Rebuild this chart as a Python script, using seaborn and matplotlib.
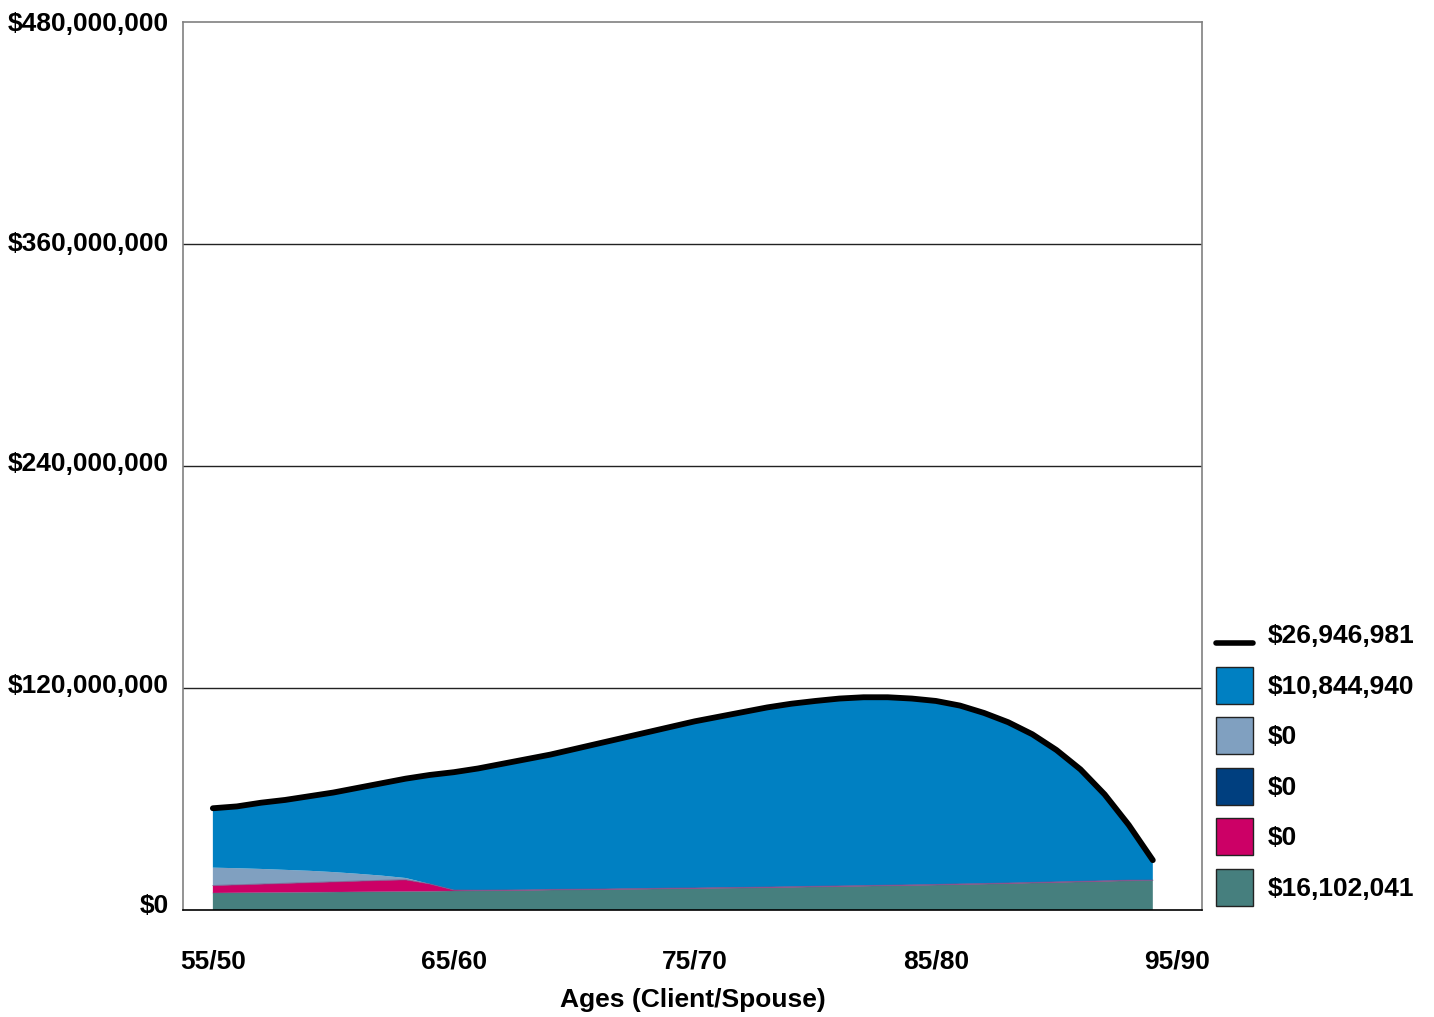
import matplotlib
matplotlib.use("Agg")
import matplotlib.pyplot as plt
import matplotlib.transforms as mtransforms
from matplotlib.patches import Patch
from matplotlib.lines import Line2D
from matplotlib.legend_handler import HandlerLine2D
from matplotlib.ticker import FuncFormatter
import numpy as np
import pandas as pd
import seaborn as sns

# Client ages, one row per year of the projection
ages = list(range(55, 95))

# Projected asset values in millions of dollars (bottom of the stack first)
teal_vals = [9.2, 9.3, 9.4, 9.5, 9.6, 9.7, 9.8, 9.9, 10.0, 10.1,
             10.3, 10.4, 10.5, 10.6, 10.8, 10.9, 11.0, 11.2, 11.3, 11.5,
             11.6, 11.8, 11.9, 12.1, 12.3, 12.5, 12.7, 12.9, 13.1, 13.3,
             13.5, 13.8, 14.0, 14.3, 14.6, 14.9, 15.2, 15.5, 15.8, 16.102041]
magenta_vals = [4.0, 4.3, 4.6, 4.9, 5.2, 5.5, 5.8, 6.1, 6.3, 4.0,
                0.5, 0.3, 0.3, 0.3, 0.3, 0.3, 0.3, 0.3, 0.3, 0.3,
                0.3, 0.3, 0.3, 0.3, 0.3, 0.3, 0.3, 0.3, 0.3, 0.3,
                0.3, 0.3, 0.3, 0.3, 0.3, 0.3, 0.3, 0.3, 0.3, 0.0]
navy_vals = [0.0] * 40
steel_vals = [9.7, 9.0, 8.2, 7.3, 6.4, 5.3, 4.0, 2.6, 1.0, 0.0,
              0.0, 0.0, 0.0, 0.0, 0.0, 0.0, 0.0, 0.0, 0.0, 0.0,
              0.0, 0.0, 0.0, 0.0, 0.0, 0.0, 0.0, 0.0, 0.0, 0.0,
              0.0, 0.0, 0.0, 0.0, 0.0, 0.0, 0.0, 0.0, 0.0, 0.0]
total_vals = [55.0, 56.0, 58.0, 59.5, 61.5, 63.5, 66.0, 68.5, 71.0, 73.0,
              74.5, 76.5, 79.0, 81.5, 84.0, 87.0, 90.0, 93.0, 96.0, 99.0,
              102.0, 104.5, 107.0, 109.5, 111.5, 113.0, 114.3, 115.0, 115.0, 114.3,
              113.0, 110.5, 106.5, 101.5, 95.0, 86.5, 76.0, 62.5, 46.0, 26.946981]

# Legend labels (final-year values)
legend_labels = ["$26,946,981", "$10,844,940", "$0", "$0", "$0", "$16,102,041"]

# Axis ticks
x_ticks = [55, 65, 75, 85, 95]
x_tick_labels = ["55/50", "65/60", "75/70", "85/80", "95/90"]
y_ticks = [0, 120, 240, 360, 480]

df = pd.DataFrame({
    "age": ages,
    "teal": teal_vals,
    "magenta": magenta_vals,
    "navy": navy_vals,
    "steel": steel_vals,
    "total": total_vals,
})
df["blue"] = df["total"] - df[["teal", "magenta", "navy", "steel"]].sum(axis=1)

c_blue = "#0080C2"
c_steel = "#80A0C0"
c_navy = "#003F7F"
c_magenta = "#CC0066"
c_teal = "#467F7E"

FS = 19

sns.set_theme(style="white")
plt.rcParams["font.family"] = ["Liberation Sans", "DejaVu Sans"]
plt.rcParams["font.weight"] = "bold"
for key in ["text.color", "axes.labelcolor", "xtick.color", "ytick.color"]:
    plt.rcParams[key] = "black"

fig = plt.figure(figsize=(14.34, 10.17), dpi=100)
ax = fig.add_axes([0.1276, 0.1052, 0.8382 - 0.1276, 0.9784 - 0.1052])

ax.stackplot(df["age"], df["teal"], df["magenta"], df["navy"], df["steel"], df["blue"],
             colors=[c_teal, c_magenta, c_navy, c_steel, c_blue],
             edgecolor="none", linewidth=0, zorder=2)
# thin seams of the minor layers
base = df["teal"]
ax.plot(df["age"], base + df["magenta"], color="#7A4F86", lw=0.8, alpha=0.7, zorder=3)
ax.plot(df["age"], base, color="#7A4F86", lw=0.6, alpha=0.5, zorder=3)

sns.lineplot(data=df, x="age", y="total", color="black", linewidth=4.2, ax=ax,
             zorder=4, solid_capstyle="round")

ax.set_xlim(53.76, 96.04)
ax.set_ylim(0, 480)
ax.set_xticks(x_ticks)
ax.set_xticklabels(x_tick_labels)
ax.set_yticks(y_ticks)
ax.yaxis.set_major_formatter(FuncFormatter(lambda v, p: "$0" if v == 0 else f"${int(v * 1e6):,}"))
ax.tick_params(axis="both", length=0, labelsize=FS)
ax.tick_params(axis="y", pad=10)
ax.tick_params(axis="x", pad=28.5)
for lab in ax.get_xticklabels() + ax.get_yticklabels():
    lab.set_fontweight("bold")
# value labels sit a little above their gridlines, more so lower down
lifts_px = [7, 5, 4, 2, 0]
for lab, px in zip(ax.get_yticklabels(), lifts_px):
    lift = mtransforms.ScaledTranslation(0, px / 100, fig.dpi_scale_trans)
    lab.set_transform(lab.get_transform() + lift)

ax.grid(False)
for y in y_ticks[1:-1]:
    ax.axhline(y, color="#222222", lw=1.0, zorder=1)

for side in ["left", "top", "right"]:
    ax.spines[side].set_color("#808080")
    ax.spines[side].set_linewidth(1.2)
ax.spines["bottom"].set_color("black")
ax.spines["bottom"].set_linewidth(1.2)
ax.spines["bottom"].set_zorder(5)

ax.set_xlabel("Ages (Client/Spouse)", fontsize=FS, fontweight="bold", labelpad=10.5)
ax.set_ylabel("")


class LowLineHandler(HandlerLine2D):
    """Legend line drawn near the bottom of its row."""
    def create_artists(self, legend, orig_handle, xdescent, ydescent, width, height,
                       fontsize, trans):
        artists = super().create_artists(legend, orig_handle, xdescent, ydescent,
                                         width, height, fontsize, trans)
        for a in artists:
            a.set_ydata(np.full_like(np.asarray(a.get_xdata(), dtype=float), 0.0))
        return artists


line_handle = Line2D([0], [0], color="black", lw=4.0, solid_capstyle="round")
handles = [line_handle]
for c in [c_blue, c_steel, c_navy, c_magenta, c_teal]:
    handles.append(Patch(facecolor=c, edgecolor="#222222", linewidth=1.0))
leg = fig.legend(handles, legend_labels, loc="lower left",
                 bbox_to_anchor=(1216 / 1434, 1 - 906 / 1017),
                 frameon=False, prop={"size": FS, "weight": "bold"},
                 handlelength=1.42, handleheight=1.8, labelspacing=0.5,
                 handletextpad=0.55, borderaxespad=0, borderpad=0,
                 handler_map={line_handle: LowLineHandler()})

fig.savefig("out.png", dpi=100)
